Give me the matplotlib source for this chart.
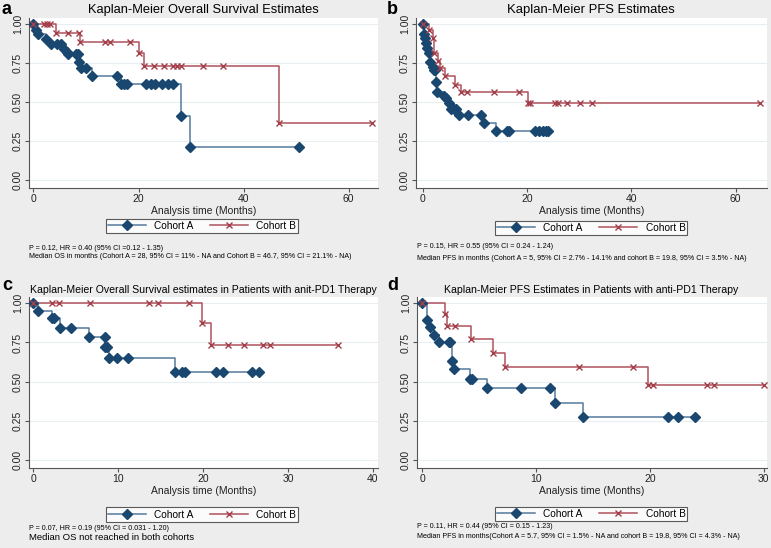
import matplotlib
matplotlib.use("Agg")
import matplotlib.pyplot as plt

plt.rcParams['font.family'] = ['Liberation Sans', 'DejaVu Sans']

# ---- data (months, survival probability) ----
# a: overall survival
os_a_time = [0, 0.5, 0.8, 2.3, 3.3, 4.5, 5.2, 5.9, 6.3, 6.5, 8.1, 8.5, 8.6, 9.0, 10.0,
             11.1, 16.0, 16.6, 17.3, 17.9, 21.4, 22.4, 23.2, 24.5, 25.7, 26.6, 28.0, 29.8, 50.6]
os_a_surv = [1.0, 0.966, 0.936, 0.904, 0.876, 0.876, 0.876, 0.844, 0.82, 0.81, 0.81, 0.81, 0.76,
             0.722, 0.722, 0.67, 0.67, 0.62, 0.62, 0.62, 0.62, 0.62, 0.62, 0.62, 0.62, 0.62,
             0.41, 0.21, 0.21]
os_b_time = [0, 2.1, 2.5, 3.1, 4.3, 6.6, 8.7, 8.9, 13.6, 14.6, 18.4, 20.0, 21.1, 22.9, 24.8,
             26.6, 27.3, 28.0, 32.2, 36.0, 46.8, 64.5]
os_b_surv = [1.0, 1.0, 1.0, 1.0, 0.947, 0.947, 0.947, 0.885, 0.885, 0.885, 0.885, 0.816, 0.733,
             0.733, 0.733, 0.733, 0.733, 0.733, 0.733, 0.733, 0.367, 0.367]

# b: progression free survival
pfs_a_time = [0, 0.27, 0.5, 0.65, 0.84, 1.15, 1.47, 2.0, 2.2, 2.3, 2.57, 2.8, 4.2, 4.5, 5.0,
              5.5, 6.1, 6.4, 7.0, 8.7, 11.2, 11.7, 14.1, 16.2, 16.5, 21.5, 22.4, 23.0, 23.6, 24.1]
pfs_a_surv = [1.0, 0.94, 0.91, 0.877, 0.846, 0.814, 0.759, 0.729, 0.704, 0.704, 0.632, 0.566,
              0.538, 0.53, 0.492, 0.458, 0.458, 0.458, 0.417, 0.417, 0.417, 0.369,
              0.314, 0.314, 0.314, 0.314, 0.314, 0.314, 0.314, 0.314]
pfs_b_time = [0, 1.15, 2.0, 2.24, 2.9, 3.4, 4.35, 6.3, 7.3, 8.56, 13.7, 18.5, 20.2, 20.5,
              25.4, 25.9, 27.7, 30.1, 32.4, 64.7]
pfs_b_surv = [1.0, 0.962, 0.909, 0.814, 0.767, 0.719, 0.665, 0.612, 0.566, 0.566, 0.566, 0.566,
              0.492, 0.492, 0.492, 0.492, 0.492, 0.492, 0.492, 0.492]

# c: overall survival, anti-PD1
pd1_os_a_time = [0, 0.6, 2.2, 2.4, 3.2, 4.5, 6.55, 8.4, 8.5, 8.7, 8.9, 9.9, 11.2, 16.75, 17.5,
                 17.85, 21.5, 22.4, 25.8, 26.6]
pd1_os_a_surv = [1.0, 0.948, 0.903, 0.903, 0.844, 0.844, 0.788, 0.788, 0.722, 0.722, 0.65, 0.65,
                 0.65, 0.5625, 0.5625, 0.5625, 0.5625, 0.5625, 0.5625, 0.5625]
pd1_os_b_time = [0, 2.2, 3.0, 6.7, 13.6, 14.7, 18.4, 19.9, 20.9, 22.9, 24.8, 27.1, 27.85, 35.9]
pd1_os_b_surv = [1.0, 1.0, 1.0, 1.0, 1.0, 1.0, 1.0, 0.875, 0.733, 0.733, 0.733, 0.733, 0.733, 0.733]

# d: PFS, anti-PD1
pd1_pfs_a_time = [0, 0.44, 0.65, 1.0, 1.45, 2.3, 2.43, 2.6, 2.8, 4.2, 4.36, 5.7, 8.65, 11.2,
                  11.7, 14.1, 21.6, 22.5, 24.0]
pd1_pfs_a_surv = [1.0, 0.896, 0.85, 0.80, 0.75, 0.75, 0.75, 0.635, 0.579, 0.52, 0.52, 0.458,
                  0.458, 0.458, 0.364, 0.275, 0.275, 0.275, 0.275]
pd1_pfs_b_time = [0, 2.0, 2.2, 2.9, 4.3, 6.2, 7.3, 13.75, 18.5, 19.8, 20.3, 25.0, 25.6, 30.0]
pd1_pfs_b_surv = [1.0, 0.933, 0.857, 0.857, 0.77, 0.683, 0.594, 0.594, 0.594, 0.479, 0.479,
                  0.479, 0.479, 0.479]

y_ticks = [0.0, 0.25, 0.5, 0.75, 1.0]
y_labels = ['0.00', '0.25', '0.50', '0.75', '1.00']

W, H = 771, 548
BG = '#ededed'
NAVY = '#1a476f'
NAVY_LINE = '#55799b'
RED = '#a33f4a'
RED_LINE = '#b0525c'

fig = plt.figure(figsize=(W / 100, H / 100), dpi=100, facecolor=BG)


def px_axes(left, top, right, bottom):
    return fig.add_axes([left / W, 1 - bottom / H, (right - left) / W, (bottom - top) / H])


def ftext(x, y, s, **kw):
    fig.text(x / W, 1 - y / H, s, **kw)


def km_panel(box, xlim, xticks, ta, sa, tb, sb, legend_xy):
    ax = px_axes(*box)
    ax.set_facecolor('white')
    ax.step(ta, sa, where='post', color=NAVY_LINE, lw=1.1, zorder=3)
    ax.plot(ta, sa, ls='none', marker='D', ms=4.8, color=NAVY, zorder=4)
    ax.step(tb, sb, where='post', color=RED_LINE, lw=1.1, zorder=3)
    ax.plot(tb, sb, ls='none', marker='x', ms=4, mew=1.0, color=RED, zorder=4)
    ax.set_xlim(*xlim)
    ax.set_ylim(-0.05, 1.04)
    ax.set_xticks(xticks)
    ax.set_yticks(y_ticks)
    ax.set_yticklabels(y_labels, rotation=90, va='center')
    for y in y_ticks:
        ax.axhline(y, color='#e9eef2', lw=0.8, zorder=1)
    for side in ['top', 'right']:
        ax.spines[side].set_visible(False)
    for side in ['left', 'bottom']:
        ax.spines[side].set_color('#555555')
        ax.spines[side].set_linewidth(0.8)
    ax.tick_params(labelsize=7.5, colors='#555555', labelcolor='#222222', length=3,
                   width=0.8, pad=1.5)
    ax.set_xlabel('Analysis time (Months)', fontsize=7.5, labelpad=1.5, color='#222222')
    h1, = ax.plot([], [], color=NAVY_LINE, lw=1.1, marker='D', ms=4.8, mfc=NAVY, mec=NAVY)
    h2, = ax.plot([], [], color=RED_LINE, lw=1.1, marker='x', ms=4, mew=1.0, mec=RED)
    leg = ax.legend([h1, h2], ['Cohort A', 'Cohort B'], ncol=2, loc='center',
                    bbox_to_anchor=(legend_xy[0] / W, 1 - legend_xy[1] / H),
                    bbox_transform=fig.transFigure, fontsize=7.3, frameon=True,
                    fancybox=False, handlelength=3.8, columnspacing=1.6,
                    borderpad=0.2, handletextpad=0.8)
    leg.get_frame().set_edgecolor('#333333')
    leg.get_frame().set_linewidth(0.8)
    return ax


# a
km_panel((29, 18, 378, 188), (-0.85, 65.6), [0, 20, 40, 60],
         os_a_time, os_a_surv, os_b_time, os_b_surv, (202, 226))
ftext(203, 10, 'Kaplan-Meier Overall Survival Estimates', fontsize=9.3, ha='center', va='center')
ftext(2, 10, 'a', fontsize=13, fontweight='bold', va='center')
ftext(29, 248, 'P = 0.12, HR = 0.40 (95% CI =0.12 - 1.35)', fontsize=5.15, va='center')
ftext(29, 257, 'Median OS in months (Cohort A = 28, 95% CI = 11% - NA and Cohort B = 46.7, '
      '95% CI = 21.1% - NA)', fontsize=5.15, va='center')

# b
km_panel((416, 18, 767, 188), (-1.26, 66), [0, 20, 40, 60],
         pfs_a_time, pfs_a_surv, pfs_b_time, pfs_b_surv, (591, 228))
ftext(591, 10, 'Kaplan-Meier PFS Estimates', fontsize=9.4, ha='center', va='center')
ftext(387, 10, 'b', fontsize=13, fontweight='bold', va='center')
ftext(417, 247, 'P = 0.15, HR = 0.55 (95% CI = 0.24 - 1.24)', fontsize=5.15, va='center')
ftext(417, 258, 'Median PFS in months (Cohort A = 5, 95% CI = 2.7% - 14.1% and cohort B = 19.8, '
      '95% CI = 3.5% - NA)', fontsize=5.15, va='center')

# c
km_panel((29, 297, 378, 468), (-0.5, 40.6), [0, 10, 20, 30, 40],
         pd1_os_a_time, pd1_os_a_surv, pd1_os_b_time, pd1_os_b_surv, (202, 514.5))
ftext(203.5, 290, 'Kaplan-Meier Overall Survival estimates in Patients with anit-PD1 Therapy',
      fontsize=7.6, ha='center', va='center')
ftext(2, 285, 'c', fontsize=13, fontweight='bold', va='center')
ftext(29, 528, 'P = 0.07, HR = 0.19 (95% CI = 0.031 - 1.20)', fontsize=5.15, va='center')
ftext(29, 538, 'Median OS not reached in both cohorts', fontsize=6.8, va='center')

# d
km_panel((417, 297, 767, 468), (-0.48, 30.3), [0, 10, 20, 30],
         pd1_pfs_a_time, pd1_pfs_a_surv, pd1_pfs_b_time, pd1_pfs_b_surv, (591, 514))
ftext(591, 290, 'Kaplan-Meier PFS Estimates in Patients with anti-PD1 Therapy',
      fontsize=7.6, ha='center', va='center')
ftext(387, 285, 'd', fontsize=13, fontweight='bold', va='center')
ftext(417, 527, 'P = 0.11, HR = 0.44 (95% CI = 0.15 - 1.23)', fontsize=5.15, va='center')
ftext(417, 537, 'Median PFS in months(Cohort A = 5.7, 95% CI = 1.5% - NA and cohort B = 19.8, '
      '95% CI = 4.3% - NA)', fontsize=5.15, va='center')

fig.savefig('out.png', dpi=100, facecolor=BG)
